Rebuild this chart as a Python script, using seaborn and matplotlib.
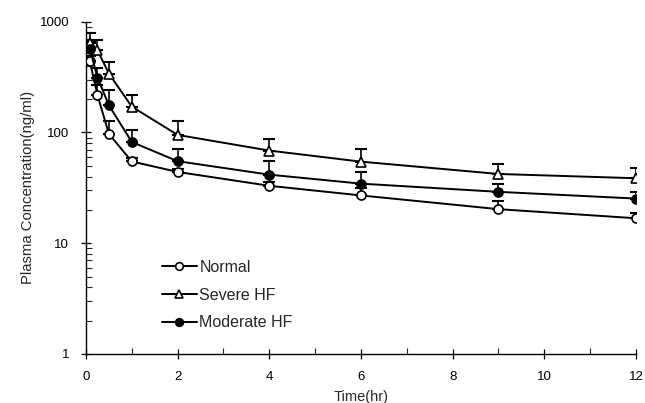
import numpy as np
import pandas as pd
import matplotlib
matplotlib.use('Agg')
import matplotlib.pyplot as plt
import seaborn as sns
from matplotlib.ticker import LogLocator, FixedLocator, NullFormatter

# sampling times (hr)
time = [0.083, 0.25, 0.5, 1, 2, 4, 6, 9, 12]

# mean plasma concentrations (ng/ml)
normal = [440, 218, 97, 54.7, 44, 33, 27, 20.3, 16.8]
severe_hf = [641, 552, 340, 171, 95, 68.6, 54.5, 42.2, 38.6]
moderate_hf = [570, 313, 176, 82, 55, 41.6, 34.5, 29.1, 25.3]

# upper error bars (SD)
normal_sd = [48, 50, 30, 4.7, 2.8, 2.8, 4.2, 3.6, 1.8]
severe_hf_sd = [147, 126, 95, 48, 32, 19, 16.7, 9.7, 8.8]
moderate_hf_sd = [102, 72, 64, 24, 16.5, 14, 9.7, 5.2, 3.9]

sns.set_style('ticks')
plt.rcParams['font.family'] = ['Liberation Sans', 'DejaVu Sans']

fig = plt.figure(figsize=(6.45, 4.03), dpi=100)
ax = fig.add_axes([0.1333, 0.1216, 0.8527, 0.8246])

series = [
    ('Normal', normal, normal_sd, 'o', 'white'),
    ('Severe HF', severe_hf, severe_hf_sd, '^', 'white'),
    ('Moderate HF', moderate_hf, moderate_hf_sd, 'o', 'black'),
]

for name, vals, sd, mk, fc in series:
    df = pd.DataFrame({'Time': time, 'Conc': vals})
    ax.errorbar(df['Time'], df['Conc'], yerr=[np.zeros(len(sd)), sd],
                fmt='none', ecolor='black', elinewidth=1.2, capsize=4,
                capthick=1.5, zorder=2)
    sns.lineplot(data=df, x='Time', y='Conc', ax=ax, color='black',
                 linewidth=1.4, marker=mk, markersize=6.5,
                 markerfacecolor=fc, markeredgecolor='black',
                 markeredgewidth=1.2, label=name, zorder=3)

ax.set_yscale('log')
ax.set_ylim(1, 1000)
ax.set_xlim(0, 12)
ax.set_xticks([0, 2, 4, 6, 8, 10, 12])
ax.xaxis.set_minor_locator(FixedLocator([1, 3, 5, 7, 9, 11]))
ax.set_yticks([1, 10, 100, 1000])
ax.set_yticklabels(['1', '10', '100', '1000'])
ax.yaxis.set_minor_locator(LogLocator(base=10, subs=np.arange(2, 10)))
ax.yaxis.set_minor_formatter(NullFormatter())

ax.tick_params(which='major', direction='inout', length=7, width=0.9,
               labelsize=9.5, colors='black')
ax.tick_params(which='minor', direction='in', length=4, width=0.8)
ax.tick_params(axis='x', which='major', pad=9)
ax.tick_params(axis='y', which='major', pad=8.5)

sns.despine(ax=ax)
for s in ['left', 'bottom']:
    ax.spines[s].set_linewidth(1.0)
    ax.spines[s].set_color('black')

ax.set_xlabel('Time(hr)', fontsize=10.5, labelpad=5)
ax.set_ylabel('Plasma Concentration(ng/ml)', fontsize=10.7)
ax.yaxis.set_label_coords(-0.093, 0.5)

ax.legend(loc='upper left', bbox_to_anchor=(0.1235, 0.307), frameon=False,
          fontsize=11.5, handlelength=2.2, handletextpad=0.15,
          labelspacing=0.79, borderpad=0, markerscale=0.85)

fig.savefig('out.png', dpi=100, facecolor='white')
